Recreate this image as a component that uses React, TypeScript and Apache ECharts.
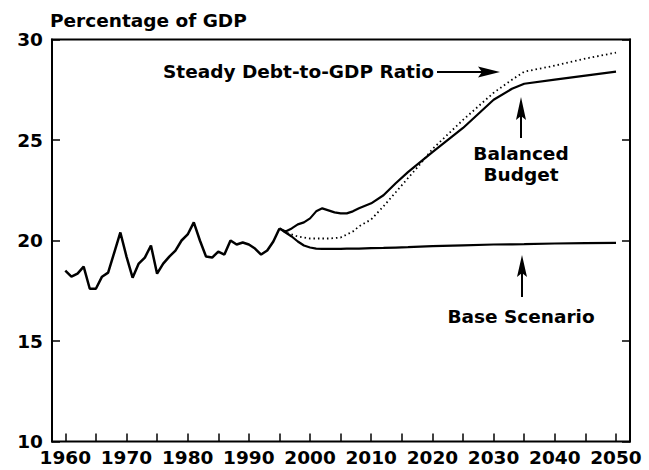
import React, { useEffect, useRef } from "react";
import * as echarts from "echarts";

const histYears = [1960, 1961, 1962, 1963, 1964, 1965, 1966, 1967, 1968, 1969, 1970, 1971, 1972, 1973, 1974, 1975, 1976, 1977, 1978, 1979, 1980, 1981, 1982, 1983, 1984, 1985, 1986, 1987, 1988, 1989, 1990, 1991, 1992, 1993, 1994, 1995];
const histValues = [18.5, 18.2, 18.35, 18.7, 17.6, 17.6, 18.2, 18.4, 19.4, 20.4, 19.2, 18.15, 18.85, 19.15, 19.75, 18.35, 18.85, 19.2, 19.5, 20.0, 20.3, 20.9, 20.0, 19.2, 19.15, 19.45, 19.3, 20.0, 19.8, 19.9, 19.8, 19.6, 19.3, 19.5, 19.95, 20.6];

const projYears = [1995, 1996, 1997, 1998, 1999, 2000, 2001, 2002, 2003, 2004, 2005, 2006, 2007, 2008, 2010, 2012, 2014, 2016, 2018, 2020, 2025, 2030, 2033, 2035, 2040, 2045, 2050];
const baseScenario = [20.6, 20.4, 20.2, 19.95, 19.75, 19.65, 19.6, 19.58, 19.58, 19.58, 19.58, 19.6, 19.6, 19.6, 19.62, 19.63, 19.65, 19.67, 19.7, 19.72, 19.76, 19.8, 19.81, 19.82, 19.85, 19.87, 19.88];
const balancedBudget = [20.6, 20.45, 20.6, 20.8, 20.9, 21.1, 21.45, 21.6, 21.5, 21.4, 21.35, 21.35, 21.45, 21.6, 21.85, 22.25, 22.85, 23.4, 23.9, 24.4, 25.6, 27.0, 27.55, 27.8, 28.0, 28.2, 28.4];
const steadyDebt = [20.6, 20.4, 20.3, 20.2, 20.15, 20.1, 20.1, 20.1, 20.1, 20.12, 20.15, 20.3, 20.45, 20.7, 21.05, 21.7, 22.4, 23.1, 23.8, 24.55, 26.0, 27.35, 28.0, 28.4, 28.7, 29.05, 29.35];

const xMin = 1960;
const xMax = 2050;
const xTickStep = 5;
const xLabelStep = 10;
const yMin = 10;
const yMax = 30;
const yStep = 5;

const yTitle = "Percentage of GDP";
const labelSteady = "Steady Debt-to-GDP Ratio";
const labelBalanced = "Balanced\nBudget";
const labelBase = "Base Scenario";

const FONT = "DejaVu Sans";

function zip(xs: number[], ys: number[]) {
  return xs.map((x, i) => [x, ys[i]]);
}

export default function App() {
  const ref = useRef<HTMLDivElement>(null);
  useEffect(() => {
    if (!ref.current) return;
    const chart = echarts.init(ref.current, null, { renderer: "svg" });
    const textStyle = { fontFamily: FONT, fontWeight: "bold" as const, fontSize: 18.5, fill: "#000" };
    const labelFont = { color: "#000", fontFamily: FONT, fontWeight: "bold" as const, fontSize: 18.5 };
    const tick = { show: true, inside: true, length: 8, lineStyle: { color: "#000", width: 1.5 } };
    const lineStyleSolid = (w: number) => ({ color: "#000", width: w });
    chart.setOption({
      animation: false,
      backgroundColor: "#fff",
      grid: [
        { left: 65.3, right: 33, top: 39.5, bottom: 28.5 },
        { left: 52, right: 19, top: 39.5, bottom: 28.5, show: true, borderColor: "#000", borderWidth: 2 },
      ],
      xAxis: [
        {
          type: "value",
          gridIndex: 0,
          min: xMin,
          max: xMax,
          interval: xTickStep,
          axisLine: { show: false },
          axisTick: tick,
          axisLabel: {
            ...labelFont,
            margin: 6,
            formatter: (v: number) => (v % xLabelStep === 0 ? String(v) : ""),
          },
          splitLine: { show: false },
        },
        { type: "value", gridIndex: 1, min: 0, max: 1, show: false },
      ],
      yAxis: [
        { type: "value", gridIndex: 0, min: yMin, max: yMax, show: false },
        {
          type: "value",
          gridIndex: 1,
          min: yMin,
          max: yMax,
          interval: yStep,
          axisLine: { show: true, lineStyle: { color: "#000", width: 2 } },
          axisTick: tick,
          axisLabel: { ...labelFont, margin: 9 },
          splitLine: { show: false },
        },
        {
          type: "value",
          gridIndex: 1,
          position: "right",
          min: yMin,
          max: yMax,
          interval: yStep,
          axisLine: { show: true, lineStyle: { color: "#000", width: 2 } },
          axisTick: tick,
          axisLabel: { show: false },
          splitLine: { show: false },
        },
      ],
      series: [
        { type: "line", xAxisIndex: 0, yAxisIndex: 0, data: zip(histYears, histValues), showSymbol: false, lineStyle: lineStyleSolid(2.5) },
        { type: "line", xAxisIndex: 0, yAxisIndex: 0, data: zip(projYears, baseScenario), showSymbol: false, lineStyle: lineStyleSolid(2.2) },
        { type: "line", xAxisIndex: 0, yAxisIndex: 0, data: zip(projYears, balancedBudget), showSymbol: false, lineStyle: lineStyleSolid(2.2) },
        {
          type: "line",
          xAxisIndex: 0,
          yAxisIndex: 0,
          data: zip(projYears, steadyDebt),
          showSymbol: false,
          lineStyle: { color: "#000", width: 1.8, type: [1.5, 3] },
        },
      ],
      graphic: [
        { type: "text", left: 50, top: 11, style: { ...textStyle, text: yTitle } },
        { type: "text", x: 163, y: 71, style: { ...textStyle, text: labelSteady, textVerticalAlign: "middle" } },
        { type: "line", shape: { x1: 437, y1: 72, x2: 484, y2: 72 }, style: { stroke: "#000", lineWidth: 2 } },
        { type: "polygon", shape: { points: [[478, 66.5], [500, 72], [478, 77.5], [482, 72]] }, style: { fill: "#000" } },
        { type: "text", x: 521, y: 164, style: { ...textStyle, text: labelBalanced, textAlign: "center", textVerticalAlign: "middle", lineHeight: 21 } },
        { type: "line", shape: { x1: 521, y1: 138, x2: 521, y2: 112 }, style: { stroke: "#000", lineWidth: 2 } },
        { type: "polygon", shape: { points: [[521, 97], [526, 120], [521, 116], [516, 120]] }, style: { fill: "#000" } },
        { type: "text", x: 521, y: 316, style: { ...textStyle, text: labelBase, textAlign: "center", textVerticalAlign: "middle" } },
        { type: "line", shape: { x1: 522, y1: 297, x2: 522, y2: 270 }, style: { stroke: "#000", lineWidth: 2 } },
        { type: "polygon", shape: { points: [[522, 255], [527, 277], [522, 273], [517, 277]] }, style: { fill: "#000" } },
      ],
    });
    return () => chart.dispose();
  }, []);
  return <div ref={ref} style={{ position: "fixed", left: 0, top: 0, width: 649, height: 470 }} />;
}
